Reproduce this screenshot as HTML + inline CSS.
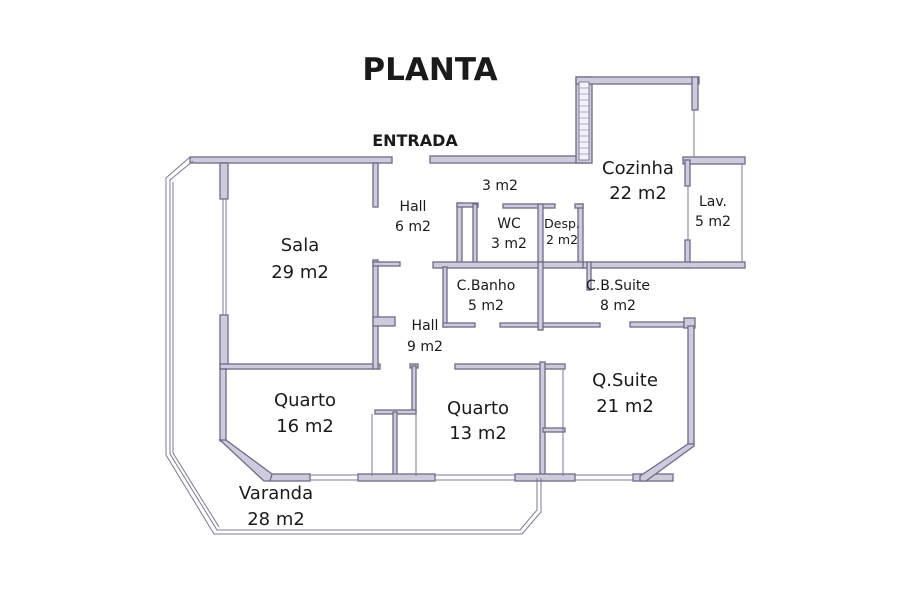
<!DOCTYPE html>
<html><head><meta charset="utf-8"><style>
html,body{margin:0;padding:0;background:#fff;}
svg{display:block;}
text{font-family:"DejaVu Sans","Liberation Sans",sans-serif;fill:#1a1a1a;text-anchor:middle;}
</style></head><body>
<svg width="900" height="597" viewBox="0 0 900 597" xmlns="http://www.w3.org/2000/svg">
<g fill="#cfcbdd" stroke="#6f6a88" stroke-width="1.3">
<rect x="190" y="157" width="202" height="6"/>
<rect x="430" y="156" width="160" height="7"/>
<rect x="576" y="77" width="16" height="86"/>
<rect x="576" y="77" width="123" height="7"/>
<rect x="692" y="77" width="6" height="33"/>
<rect x="683" y="157" width="62" height="7"/>
<rect x="685" y="160" width="5" height="26"/>
<rect x="685" y="240" width="5" height="28"/>
<rect x="580" y="262" width="165" height="6"/>
<rect x="220" y="163" width="8" height="36"/>
<rect x="220" y="315" width="8" height="54"/>
<rect x="220" y="364" width="160" height="5"/>
<rect x="373" y="163" width="5" height="44"/>
<rect x="373" y="260" width="5" height="109"/>
<rect x="373" y="262" width="27" height="4"/>
<rect x="373" y="317" width="22" height="9"/>
<rect x="220" y="369" width="6" height="72"/>
<rect x="457" y="203" width="5" height="62"/>
<rect x="457" y="203" width="21" height="4"/>
<rect x="473" y="204" width="4" height="61"/>
<rect x="503" y="204" width="52" height="4"/>
<rect x="538" y="204" width="5" height="63"/>
<rect x="578" y="204" width="5" height="61"/>
<rect x="575" y="204" width="8" height="4"/>
<rect x="433" y="262" width="150" height="6"/>
<rect x="443" y="267" width="4" height="60"/>
<rect x="443" y="323" width="32" height="4"/>
<rect x="500" y="323" width="100" height="4"/>
<rect x="538" y="262" width="5" height="68"/>
<rect x="587" y="262" width="4" height="28"/>
<rect x="630" y="322" width="60" height="5"/>
<rect x="684" y="318" width="11" height="10"/>
<rect x="455" y="364" width="110" height="5"/>
<rect x="410" y="364" width="8" height="4"/>
<rect x="412" y="366" width="4" height="47"/>
<rect x="375" y="410" width="41" height="4"/>
<rect x="393" y="412" width="4" height="66"/>
<rect x="540" y="362" width="5" height="118"/>
<rect x="543" y="428" width="22" height="4"/>
<rect x="688" y="326" width="6" height="118"/>
<rect x="270" y="474" width="40" height="7"/>
<rect x="358" y="474" width="77" height="7"/>
<rect x="515" y="474" width="60" height="7"/>
<rect x="633" y="474" width="40" height="7"/>
<polygon points="220,440 226,440 272,474 270,481 264,481"/>
<polygon points="688,444 694,444 694,446 646,481 640,481 640,476"/>
</g>
<g fill="none" stroke="#7d7894" stroke-width="1">
<line x1="310" y1="475" x2="358" y2="475"/><line x1="310" y1="480" x2="358" y2="480"/>
<line x1="435" y1="475" x2="515" y2="475"/><line x1="435" y1="480" x2="515" y2="480"/>
<line x1="575" y1="475" x2="633" y2="475"/><line x1="575" y1="480" x2="633" y2="480"/>
<line x1="223" y1="199" x2="223" y2="315"/><line x1="226" y1="199" x2="226" y2="315"/>
<line x1="694" y1="110" x2="694" y2="157"/>
<line x1="742" y1="164" x2="742" y2="262"/>
<line x1="688" y1="186" x2="688" y2="240"/>
<line x1="372" y1="414" x2="372" y2="476"/>
<line x1="416" y1="412" x2="416" y2="476"/>
<line x1="563" y1="369" x2="563" y2="476"/>
<polyline points="190,157 166,178 166,455 214,534 522,534 541,512 541,478"/>
<polyline points="193,161 170,180 170,454 217,530 520,530 537,510 537,478"/>
<polyline points="173,182 173,453 219,527"/>
</g>
<rect x="579" y="82" width="10" height="78" fill="#f3f1f8" stroke="#6f6a88" stroke-width="0.8"/>
<path d="M579 88h10M579 94h10M579 100h10M579 106h10M579 112h10M579 118h10M579 124h10M579 130h10M579 136h10M579 142h10M579 148h10M579 154h10" fill="none" stroke="#6f6a88" stroke-width="0.6"/>
<text x="430" y="80" font-size="31" font-weight="bold">PLANTA</text>
<text x="415" y="146" font-size="16" font-weight="bold">ENTRADA</text>
<g font-size="18">
<text x="300" y="251">Sala</text><text x="300" y="278">29 m2</text>
<text x="638" y="174">Cozinha</text><text x="638" y="199">22 m2</text>
<text x="305" y="406">Quarto</text><text x="305" y="432">16 m2</text>
<text x="478" y="414">Quarto</text><text x="478" y="439">13 m2</text>
<text x="625" y="386">Q.Suite</text><text x="625" y="412">21 m2</text>
<text x="276" y="499">Varanda</text><text x="276" y="525">28 m2</text>
</g>
<g font-size="14">
<text x="413" y="211">Hall</text><text x="413" y="231">6 m2</text>
<text x="500" y="190">3 m2</text>
<text x="509" y="228">WC</text><text x="509" y="248">3 m2</text>
<text x="713" y="206">Lav.</text><text x="713" y="226">5 m2</text>
<text x="486" y="290">C.Banho</text><text x="486" y="310">5 m2</text>
<text x="618" y="290">C.B.Suite</text><text x="618" y="310">8 m2</text>
<text x="425" y="330">Hall</text><text x="425" y="351">9 m2</text>
</g>
<g font-size="12.5"><text x="562" y="228">Desp.</text><text x="562" y="244">2 m2</text></g>
</svg>
</body></html>
